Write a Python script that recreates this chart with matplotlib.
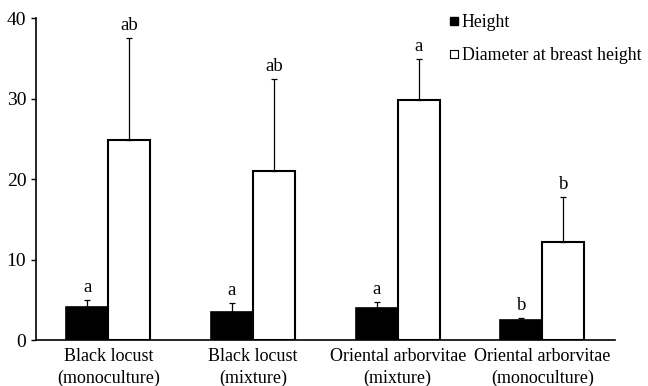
import numpy as np
import matplotlib.pyplot as plt
from matplotlib.lines import Line2D

plt.rcParams['font.family'] = 'Liberation Serif'

# Data
categories = ['Black locust\n(monoculture)', 'Black locust\n(mixture)',
              'Oriental arborvitae\n(mixture)', 'Oriental arborvitae\n(monoculture)']
height = [4.05, 3.5, 3.95, 2.45]
height_err = [0.95, 1.05, 0.75, 0.32]
dbh = [24.8, 21.05, 29.85, 12.2]
dbh_err = [12.7, 11.4, 5.1, 5.55]
height_sig = ['a', 'a', 'a', 'b']
dbh_sig = ['ab', 'ab', 'a', 'b']

x = np.arange(len(categories))
w = 0.29

fig = plt.figure(figsize=(6.48, 3.86), dpi=100)
ax = fig.add_axes([0.0556, 0.119, 0.893, 0.834])

err_kw = dict(ecolor='black', elinewidth=0.9, capsize=2.5, capthick=0.9)
ax.bar(x - w / 2, height, w, color='black', edgecolor='black', linewidth=1.2,
       yerr=[np.zeros(4), height_err], error_kw=err_kw, zorder=2)
ax.bar(x + w / 2, dbh, w, color='white', edgecolor='black', linewidth=1.5,
       yerr=[np.zeros(4), dbh_err], error_kw=err_kw, zorder=2)

# significance letters
for i in range(len(x)):
    ax.annotate(height_sig[i], (x[i] - w / 2, height[i] + height_err[i]),
                xytext=(0, 3), textcoords='offset points',
                ha='center', va='bottom', fontsize=13.5)
    ax.annotate(dbh_sig[i], (x[i] + w / 2, dbh[i] + dbh_err[i]),
                xytext=(0, 3), textcoords='offset points',
                ha='center', va='bottom', fontsize=13.5)

ax.set_xlim(-0.5, 3.5)
ax.set_ylim(0, 40)
ax.set_yticks([0, 10, 20, 30, 40])
ax.set_xticks(x)
ax.set_xticklabels(categories, fontsize=13, linespacing=1.3)
ax.tick_params(axis='x', length=0, pad=6)
ax.tick_params(axis='y', labelsize=14, length=3.5, width=1, direction='out')
ax.spines['top'].set_visible(False)
ax.spines['right'].set_visible(False)
ax.spines['left'].set_linewidth(1.2)
ax.spines['bottom'].set_linewidth(1.2)

handles = [
    Line2D([], [], marker='s', linestyle='none', markersize=6,
           markerfacecolor='black', markeredgecolor='black'),
    Line2D([], [], marker='s', linestyle='none', markersize=6,
           markerfacecolor='white', markeredgecolor='black', markeredgewidth=0.8),
]
fig.legend(handles, ['Height', 'Diameter at breast height'],
           loc='upper left', bbox_to_anchor=(0.673, 0.995), frameon=False,
           fontsize=12.8, handlelength=0.6, handletextpad=0.15,
           labelspacing=0.87, borderpad=0.2)

fig.savefig('out.png', dpi=100)
